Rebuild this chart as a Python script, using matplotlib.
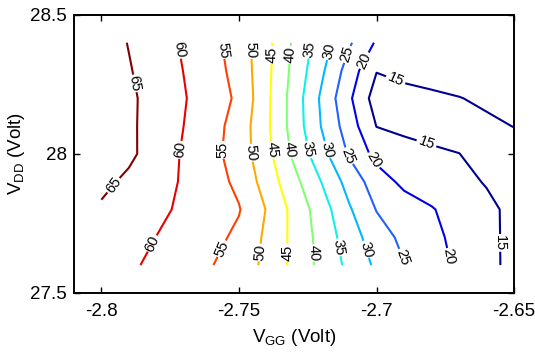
import matplotlib
matplotlib.use('Agg')
import matplotlib.pyplot as plt
import numpy as np

plt.rcParams['font.family'] = ['Liberation Sans', 'DejaVu Sans']
plt.rcParams['mathtext.default'] = 'regular'

# V_GG grid (Volt)
vgg = [-2.80, -2.79, -2.78, -2.77, -2.76, -2.75, -2.74, -2.73,
       -2.72, -2.71, -2.70, -2.69, -2.68, -2.67, -2.66, -2.65]
# V_DD grid (Volt)
vdd = [27.6, 27.7, 27.8, 27.9, 28.0, 28.1, 28.2, 28.3, 28.4]

# measured quantity, one row per V_DD value (bottom to top)
row_276 = [62.7, 60.8, 58.9, 57.0, 55.2, 52.4, 49.0, 43.7, 38.6, 33.8, 29.1, 25.2, 22.1, 19.1, 16.4, 13.6]
row_277 = [63.6, 61.8, 59.95, 58.2, 56.4, 54.0, 49.1, 43.7, 38.3, 32.5, 27.3, 23.8, 21.2, 18.7, 16.2, 13.75]
row_278 = [64.35, 62.7, 61.0, 59.2, 57.3, 55.3, 49.8, 43.5, 37.4, 30.6, 24.8, 22.5, 20.3, 18.2, 16.0, 13.9]
row_279 = [66.2, 64.0, 61.8, 59.5, 57.0, 53.9, 47.9, 41.5, 34.9, 28.1, 22.5, 18.8, 17.75, 16.2, 14.7, 14.0]
row_280 = [69.3, 66.0, 62.7, 59.5, 56.5, 52.7, 46.6, 39.0, 31.7, 24.5, 18.4, 16.7, 15.47, 15.02, 14.4, 14.0]
row_281 = [68.9, 65.9, 62.9, 59.97, 56.9, 52.9, 46.0, 37.9, 29.8, 22.5, 14.9, 14.0, 14.0, 14.3, 14.55, 15.05]
row_282 = [68.6, 65.9, 63.1, 60.3, 57.5, 54.1, 46.2, 37.8, 29.2, 20.9, 12.7, 14.27, 14.55, 14.92, 15.42, 15.8]
row_283 = [68.1, 65.35, 62.6, 59.9, 57.0, 53.25, 46.4, 38.6, 30.9, 22.8, 15.2, 15.6, 16.0, 16.3, 16.5, 16.6]
row_284 = [67.5, 64.8, 62.2, 59.4, 56.5, 52.6, 46.6, 39.2, 32.4, 25.7, 19.4, 18.5, 18.0, 17.6, 17.2, 16.8]

levels = [15, 20, 25, 30, 35, 40, 45, 50, 55, 60, 65]
level_colors = ['#00008f', '#0000e6', '#2060ff', '#00b8ff', '#10f0e8',
                '#80ff70', '#ffff00', '#ffa800', '#ff4000', '#e80000', '#800000']

xticks = [-2.8, -2.75, -2.7, -2.65]
xtick_labels = ['-2.8', '-2.75', '-2.7', '-2.65']
yticks = [27.5, 28.0, 28.5]
ytick_labels = ['27.5', '28', '28.5']

# label anchor points (near the lines)
label_pos = [
    (-2.789, 28.252), (-2.7959, 27.889),
    (-2.7719, 28.374), (-2.7708, 28.014), (-2.7803, 27.673),
    (-2.7549, 28.374), (-2.7556, 28.014), (-2.7552, 27.655),
    (-2.7447, 28.374), (-2.7454, 28.004), (-2.7411, 27.644),
    (-2.7378, 28.356), (-2.7385, 28.014), (-2.7324, 27.644),
    (-2.7309, 28.356), (-2.7320, 28.014), (-2.7236, 27.644),
    (-2.7229, 28.374), (-2.7258, 28.014), (-2.7149, 27.662),
    (-2.7160, 28.367), (-2.7186, 28.014), (-2.7044, 27.655),
    (-2.7098, 28.356), (-2.7113, 27.989), (-2.6902, 27.629),
    (-2.7033, 28.331), (-2.7022, 27.971), (-2.6742, 27.629),
    (-2.6931, 28.266), (-2.6829, 28.014), (-2.6550, 27.680),
]

Z = np.array([row_276, row_277, row_278, row_279, row_280,
              row_281, row_282, row_283, row_284])
X, Y = np.meshgrid(vgg, vdd)

fig = plt.figure(figsize=(5.35, 3.55), dpi=100)
ax = fig.add_axes([0.138, 0.175, 0.823, 0.783])

cs = ax.contour(X, Y, Z, levels=levels, colors=level_colors, linewidths=1.5)
ax.clabel(cs, levels, inline=True, fontsize=10.5, fmt='%d', colors='black',
          manual=label_pos, inline_spacing=3)

ax.set_xlim(-2.81, -2.65)
ax.set_ylim(27.5, 28.5)
ax.set_xticks(xticks)
ax.set_xticklabels(xtick_labels)
ax.set_yticks(yticks)
ax.set_yticklabels(ytick_labels)
ax.tick_params(direction='in', top=True, right=True, length=4, width=1,
               labelsize=13.5, colors='black')
ax.tick_params(axis='x', pad=7)
ax.tick_params(axis='y', pad=5)
for s in ax.spines.values():
    s.set_linewidth(1.4)

ax.set_xlabel(r'V$_{GG}$ (Volt)', fontsize=13.5, labelpad=5)
ax.set_ylabel(r'V$_{DD}$ (Volt)', fontsize=13.5, labelpad=2)

fig.savefig('out.png', dpi=100)
